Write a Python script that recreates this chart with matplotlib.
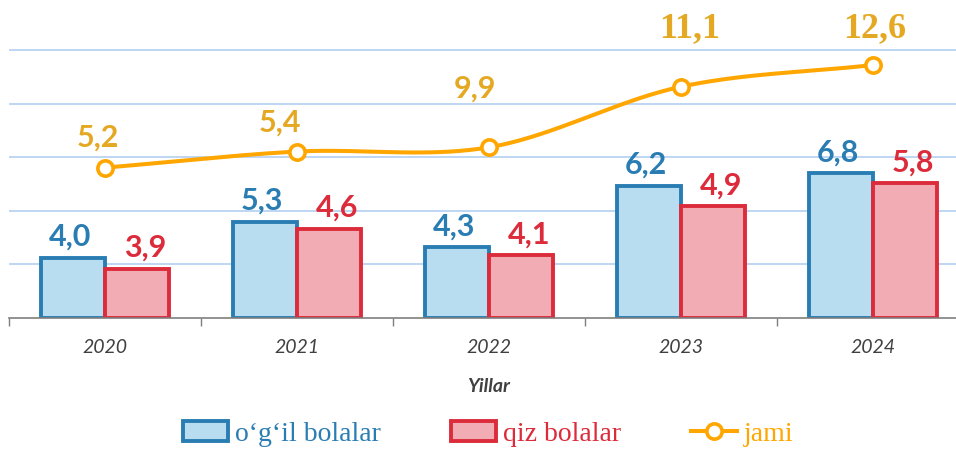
import numpy as np
import matplotlib
matplotlib.use("Agg")
import matplotlib.pyplot as plt
from matplotlib.lines import Line2D

# --- data ---
years = ["2020", "2021", "2022", "2023", "2024"]
# printed data labels
boys = [4.0, 5.3, 4.3, 6.2, 6.8]
girls = [3.9, 4.6, 4.1, 4.9, 5.8]
jami = [5.2, 5.4, 9.9, 11.1, 12.6]
# heights as drawn in the picture (labels were edited by hand, heights differ)
boys_drawn = [2.25, 3.59, 2.65, 4.93, 5.41]
girls_drawn = [1.84, 3.33, 2.34, 4.18, 5.04]
jami_drawn = [5.61, 6.21, 6.37, 8.63, 9.44]

BLUE_EDGE, BLUE_FACE = "#2a7db3", "#b8ddf1"
RED_EDGE, RED_FACE = "#dc2b3b", "#f1adb3"
ORANGE, GOLD = "#ffa600", "#e5a823"
GREY = "#404040"


def smooth(xs, ys, n=40):
    # catmull-rom curve through the points (like Excel "smoothed line")
    pts = np.column_stack([xs, ys]).astype(float)
    p = np.vstack([2 * pts[0] - pts[1], pts, 2 * pts[-1] - pts[-2]])
    t = np.linspace(0, 1, n)[:, None]
    segs = []
    for i in range(1, len(p) - 2):
        p0, p1, p2, p3 = p[i - 1], p[i], p[i + 1], p[i + 2]
        segs.append(0.5 * (2 * p1 + (-p0 + p2) * t
                           + (2 * p0 - 5 * p1 + 4 * p2 - p3) * t ** 2
                           + (-p0 + 3 * p1 - 3 * p2 + p3) * t ** 3))
    s = np.vstack(segs)
    return s[:, 0], s[:, 1]


fig = plt.figure(figsize=(9.56, 4.49), dpi=100)
ax = fig.add_axes([9 / 956, 131 / 449, 960 / 956, 318 / 449])

x = np.arange(len(years))
w = 1 / 3
b1 = ax.bar(x - w / 2, boys_drawn, w, color=BLUE_FACE, edgecolor=BLUE_EDGE,
            linewidth=2.8, zorder=2)
b2 = ax.bar(x + w / 2, girls_drawn, w, color=RED_FACE, edgecolor=RED_EDGE,
            linewidth=2.8, zorder=2)

sx, sy = smooth(x, jami_drawn)
ax.plot(sx, sy, color=ORANGE, lw=2.9, zorder=3, solid_capstyle="round")
ax.plot(x, jami_drawn, "o", ms=11, mfc="white", mec=ORANGE, mew=2.6, zorder=4)

# data labels
for i in range(len(years)):
    ax.annotate(f"{boys[i]:.1f}".replace(".", ","), (x[i] - w / 2, boys_drawn[i]),
                xytext=(-2, 8.5), textcoords="offset points", ha="center",
                va="baseline", fontsize=22, fontweight="bold", family="Lato",
                color=BLUE_EDGE, zorder=5)
    ax.annotate(f"{girls[i]:.1f}".replace(".", ","), (x[i] + w / 2, girls_drawn[i]),
                xytext=(6, 8.5), textcoords="offset points", ha="center",
                va="baseline", fontsize=22, fontweight="bold", family="Lato",
                color=RED_EDGE, zorder=5)

jami_off = [(-5, 15), (-12, 14.5), (-10, 36), (6.5, 36), (1.5, 20)]
jami_font = ["Lato", "Lato", "Lato", "Liberation Serif", "Liberation Serif"]
jami_size = [22, 22, 22, 26, 26]
for i in range(len(years)):
    ax.annotate(f"{jami[i]:.1f}".replace(".", ","), (x[i], jami_drawn[i]),
                xytext=jami_off[i], textcoords="offset points", ha="center",
                va="baseline", fontsize=jami_size[i], fontweight="bold",
                family=jami_font[i], color=GOLD, zorder=5)

ax.set_xlim(-0.5, 4.5)
ax.set_ylim(0, 318 / 26.8)
ax.set_yticks([2, 4, 6, 8, 10])
ax.set_yticklabels([])
ax.tick_params(axis="y", length=0)
ax.grid(axis="y", color="#b4cff2", lw=1.2)
ax.set_axisbelow(True)

ax.set_xticks(x)
ax.set_xticklabels(years, fontsize=14, style="italic", family="Lato", color=GREY)
ax.set_xticks(np.arange(-0.5, 5, 1), minor=True)
ax.tick_params(axis="x", which="major", length=0, pad=15)
ax.tick_params(axis="x", which="minor", length=6, color="#7f7f7f", width=1)

for s in ["top", "right", "left"]:
    ax.spines[s].set_visible(False)
ax.spines["bottom"].set_color("#7f7f7f")
ax.spines["bottom"].set_linewidth(1.2)
ax.spines["bottom"].set_zorder(6)

fig.text(489 / 956, 1 - 387 / 449, "Yillar", ha="center", va="center",
         fontsize=14, style="italic", fontweight="bold", family="Lato", color=GREY)

jami_handle = Line2D([], [], color=ORANGE, lw=2.9, marker="o", ms=11,
                     mfc="white", mec=ORANGE, mew=2.6)
leg = fig.legend([b1, b2, jami_handle], ["o‘g‘il bolalar", "qiz bolalar", "jami"],
                 loc="center", bbox_to_anchor=(488 / 956, 1 - 434 / 449), ncol=3,
                 frameon=False, prop={"family": "Liberation Serif", "size": 20},
                 handlelength=1.65, handleheight=0.72, handletextpad=0.25,
                 columnspacing=2.5)
for txt, c in zip(leg.get_texts(), [BLUE_EDGE, RED_EDGE, ORANGE]):
    txt.set_color(c)

fig.savefig("out.png", dpi=100)
